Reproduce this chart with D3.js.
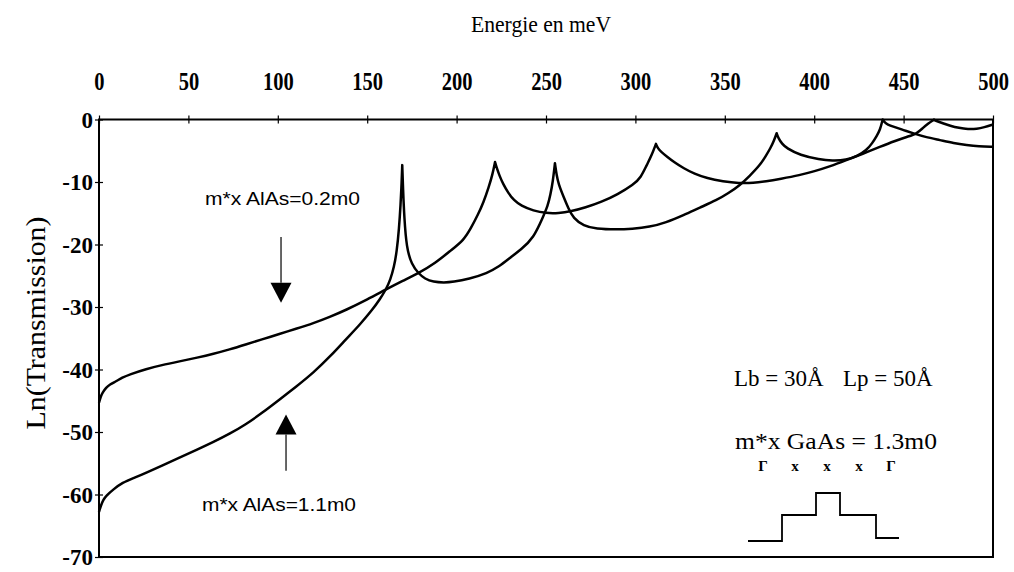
<!DOCTYPE html>
<html>
<head>
<meta charset="utf-8">
<script src="https://cdn.jsdelivr.net/npm/d3@7"></script>
<style>
  html, body { margin: 0; padding: 0; background: #fff; }
  svg { display: block; }
</style>
</head>
<body>
<svg id="chart" width="1014" height="572"></svg>
<script>
// Transmission spectra ln(T) versus energy (meV) for two AlAs X-valley masses.
const energyA = [0, 1, 2, 4, 6, 9.5, 13, 17, 26.5, 35, 45, 55, 64, 73, 82, 91, 101, 110, 120, 129, 138, 150, 160.5, 170, 178.6, 188, 197, 204, 208, 212, 215, 218, 220, 221.5,
  222.5, 224, 226, 229, 232, 236, 243, 250, 257, 264, 272, 281, 290, 299, 303, 306.3, 309, 311.5,
  312.5, 314.5, 317.5, 322, 327, 333, 340, 349, 358, 366, 373, 381, 392, 400, 409, 418, 427, 437, 445, 452, 457.3, 461, 464, 466, 467,
  468, 470, 472, 476, 481, 486, 491, 495, 500];
const lnTA = [-45.3, -44.3, -43.7, -42.9, -42.4, -41.9, -41.3, -40.8, -39.9, -39.3, -38.7, -38.1, -37.5, -36.8, -36.0, -35.2, -34.3, -33.5, -32.6, -31.6, -30.5, -28.8, -27.2, -25.8, -24.6, -23.0, -20.9, -19.3, -17.4, -15.2, -13.3, -10.8, -8.9, -6.8,
  -7.8, -9.0, -10.3, -11.8, -12.9, -13.8, -14.6, -15.0, -15.0, -14.7, -14.1, -13.2, -12.0, -10.4, -9.3, -7.3, -5.8, -3.9,
  -4.6, -5.2, -5.9, -6.9, -7.8, -8.7, -9.4, -9.9, -10.2, -10.15, -9.9, -9.5, -8.9, -8.3, -7.5, -6.5, -5.5, -4.35, -3.45, -2.75, -2.3, -1.3, -0.6, -0.2, 0,
  -0.2, -0.4, -0.6, -1.0, -1.35, -1.55, -1.5, -1.25, -0.8];

const energyB = [0, 1, 2.5, 4, 8, 13, 20, 26.5, 35, 45, 55, 64, 73, 82, 91, 101, 110, 120, 130, 138, 146, 153, 157, 160.5, 163, 165, 166.5, 167.8, 168.7, 169.2, 169.6,
  170.1, 170.7, 172, 174.9, 178.6, 182.3, 187, 193, 198, 207, 217, 224, 230, 236, 243, 248.5, 251, 252.5, 253.8, 255,
  256, 257, 259.7, 262.5, 265.3, 271, 278, 289.5, 298, 308, 317, 327, 336, 345.5, 352, 358.5, 364, 369.7, 373, 375.5, 377.5, 379,
  380, 382, 384.6, 392, 403, 410, 418, 424, 429.3, 432.5, 435, 436.8, 438.3,
  439.5, 441, 444.3, 450, 455.4, 462, 470.4, 478, 485.3, 492, 500];
const lnTB = [-62.8, -61.8, -60.8, -60.2, -59.2, -58.1, -57.3, -56.5, -55.4, -54.1, -52.8, -51.6, -50.3, -48.8, -47.0, -44.8, -42.8, -40.5, -37.7, -35.2, -32.8, -30.4, -28.8, -27.2, -25.6, -23.6, -21.2, -17.5, -13.5, -10.5, -7.3,
  -11.5, -15.5, -20.6, -23.2, -24.6, -25.5, -26.0, -26.1, -26.0, -25.5, -24.6, -23.5, -22.1, -20.8, -19.0, -15.5, -13.8, -12.0, -10.0, -7.0,
  -9.0, -10.3, -12.3, -14.2, -15.8, -17.0, -17.5, -17.6, -17.5, -17.2, -16.5, -15.3, -14.1, -12.9, -11.8, -10.5, -9.0, -7.3, -5.8, -4.6, -3.4, -2.2,
  -3.0, -3.9, -4.6, -5.7, -6.4, -6.6, -6.5, -5.9, -4.9, -3.8, -2.6, -1.7, 0,
  -0.5, -0.8, -1.15, -1.7, -2.2, -2.8, -3.3, -3.8, -4.1, -4.3, -4.35];

const xTickValues = [0, 50, 100, 150, 200, 250, 300, 350, 400, 450, 500];
const yTickValues = [0, -10, -20, -30, -40, -50, -60, -70];

// Schematic band profile of the structure: valley labels, region widths and levels
const bandLabels = ["\u0393", "x", "x", "x", "\u0393"];
const bandWidths = [34, 34, 24, 36, 23];
const bandLevels = [0, 26, 48, 26, 3];

const svg = d3.select("#chart");
const serif = "'Liberation Serif', 'Times New Roman', serif";
const sans = "'Liberation Sans', Arial, sans-serif";

const x = d3.scaleLinear().domain([0, 500]).range([99, 993]);
const y = d3.scaleLinear().domain([-70, 0]).range([557, 119.5]);

// Frame
svg.append("rect")
  .attr("x", x(0)).attr("y", y(0))
  .attr("width", x(500) - x(0)).attr("height", y(-70) - y(0))
  .attr("fill", "none").attr("stroke", "#000").attr("stroke-width", 2);

// Top energy axis
const gTop = svg.append("g")
  .attr("transform", `translate(0,${y(0)})`)
  .call(d3.axisTop(x).tickValues(xTickValues).tickFormat(d => String(d))
    .tickSizeInner(4).tickSizeOuter(0).tickPadding(26));
gTop.select(".domain").remove();
gTop.selectAll(".tick line").attr("y2", -4).attr("y1", 4).attr("stroke-width", 1.2);
gTop.selectAll(".tick text")
  .attr("font-family", serif).attr("font-weight", "bold").attr("font-size", 25)
  .attr("transform", "scale(0.82,1)")
  .attr("fill", "#000");

// Left ln(T) axis
const gLeft = svg.append("g")
  .attr("transform", `translate(${x(0)},0)`)
  .call(d3.axisLeft(y).tickValues(yTickValues).tickFormat(d => String(d))
    .tickSizeInner(4).tickSizeOuter(0).tickPadding(2));
gLeft.select(".domain").remove();
gLeft.selectAll(".tick line").attr("x2", -4).attr("x1", 4).attr("stroke-width", 1.2);
gLeft.selectAll(".tick text")
  .attr("font-family", serif).attr("font-weight", "bold").attr("font-size", 23)
  .attr("fill", "#000").attr("dy", "0.34em");

// Axis titles
svg.append("text")
  .attr("x", 541).attr("y", 32).attr("text-anchor", "middle")
  .attr("font-family", serif).attr("font-size", 24)
  .attr("textLength", 140).attr("lengthAdjust", "spacingAndGlyphs")
  .text("Energie en meV");
svg.append("text")
  .attr("transform", "translate(45,323) rotate(-90)")
  .attr("text-anchor", "middle")
  .attr("font-family", serif).attr("font-size", 28)
  .attr("textLength", 213).attr("lengthAdjust", "spacingAndGlyphs")
  .text("Ln(Transmission)");

// Curves: split at resonance peaks so each peak stays a sharp cusp
function cuspPath(xs, ys) {
  const pts = xs.map((e, i) => [e, ys[i]]);
  const segs = [];
  let start = 0;
  for (let i = 1; i < pts.length - 1; i++) {
    if (pts[i][1] > pts[i - 1][1] && pts[i][1] > pts[i + 1][1]) {
      segs.push(pts.slice(start, i + 1));
      start = i;
    }
  }
  segs.push(pts.slice(start));
  const line = d3.line().x(d => x(d[0])).y(d => y(d[1])).curve(d3.curveBasis);
  return segs.map((s, i) => {
    const p = line(s);
    return i ? p.replace(/^M/, "L") : p;
  }).join("");
}

[[energyA, lnTA], [energyB, lnTB]].forEach(([xs, ys]) => {
  svg.append("path")
    .attr("d", cuspPath(xs, ys))
    .attr("fill", "none").attr("stroke", "#000")
    .attr("stroke-width", 2.5).attr("stroke-linejoin", "round");
});

// Annotations with arrows
function arrow(e, yFrom, yTip) {
  const xp = x(e), y0 = y(yFrom), yt = y(yTip);
  const dir = yt > y0 ? 1 : -1;
  const headLen = 20, headHalf = 10.5;
  svg.append("line")
    .attr("x1", xp).attr("x2", xp).attr("y1", y0).attr("y2", yt - dir * headLen)
    .attr("stroke", "#000").attr("stroke-width", 1.2);
  svg.append("path")
    .attr("d", `M${xp - headHalf},${yt - dir * headLen}L${xp + headHalf},${yt - dir * headLen}L${xp},${yt}Z`)
    .attr("fill", "#000");
}
arrow(101.8, -18.8, -29.3);
arrow(104.6, -56.2, -47.2);

svg.append("text")
  .attr("x", x(59.3)).attr("y", y(-13.7))
  .attr("font-family", sans).attr("font-size", 18)
  .attr("textLength", 155).attr("lengthAdjust", "spacingAndGlyphs")
  .text("m*x AlAs=0.2m0");
svg.append("text")
  .attr("x", x(57.6)).attr("y", y(-62.7))
  .attr("font-family", sans).attr("font-size", 18)
  .attr("textLength", 154).attr("lengthAdjust", "spacingAndGlyphs")
  .text("m*x AlAs=1.1m0");

// Structure parameters
svg.append("text")
  .attr("x", 734).attr("y", 386)
  .attr("font-family", serif).attr("font-size", 23)
  .text("Lb = 30\u00C5");
svg.append("text")
  .attr("x", 843).attr("y", 386)
  .attr("font-family", serif).attr("font-size", 23)
  .text("Lp = 50\u00C5");
svg.append("text")
  .attr("x", 735).attr("y", 449)
  .attr("font-family", serif).attr("font-size", 24)
  .attr("textLength", 202).attr("lengthAdjust", "spacingAndGlyphs")
  .text("m*x GaAs = 1.3m0");

// Band profile sketch
const bx = d3.scaleLinear().domain([0, d3.sum(bandWidths)]).range([748, 899]);
const by = d3.scaleLinear().domain([0, 48]).range([541, 493]);
const edges = d3.cumsum([0, ...bandWidths]);
let prof = "";
bandLevels.forEach((lv, i) => {
  prof += (i === 0 ? "M" : "L") + bx(edges[i]) + "," + by(lv);
  prof += "L" + bx(edges[i + 1]) + "," + by(lv);
});
svg.append("path").attr("d", prof)
  .attr("fill", "none").attr("stroke", "#000").attr("stroke-width", 1.8);

const lx = d3.scalePoint().domain(d3.range(bandLabels.length)).range([763, 891]);
svg.selectAll("text.band").data(bandLabels).join("text")
  .attr("class", "band")
  .attr("x", (d, i) => lx(i)).attr("y", 471)
  .attr("text-anchor", "middle")
  .attr("font-family", serif).attr("font-weight", "bold").attr("font-size", 15)
  .text(d => d);
</script>
</body>
</html>
